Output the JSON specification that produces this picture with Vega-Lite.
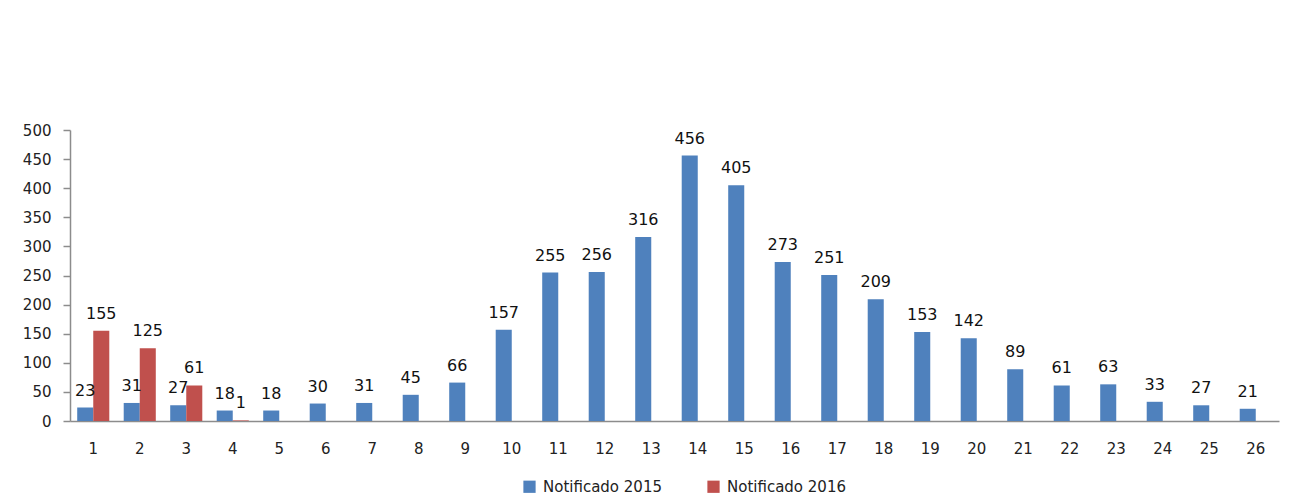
{
  "$schema": "https://vega.github.io/schema/vega-lite/v6.json",
  "autosize": {"type": "none"},
  "width": 1209,
  "height": 291,
  "padding": {"left": 70, "top": 130, "right": 28, "bottom": 82},
  "background": "white",
  "data": {"values": [
    {"semana": 1, "serie": "Notificado 2015", "casos": 23},
    {"semana": 2, "serie": "Notificado 2015", "casos": 31},
    {"semana": 3, "serie": "Notificado 2015", "casos": 27},
    {"semana": 4, "serie": "Notificado 2015", "casos": 18},
    {"semana": 5, "serie": "Notificado 2015", "casos": 18},
    {"semana": 6, "serie": "Notificado 2015", "casos": 30},
    {"semana": 7, "serie": "Notificado 2015", "casos": 31},
    {"semana": 8, "serie": "Notificado 2015", "casos": 45},
    {"semana": 9, "serie": "Notificado 2015", "casos": 66},
    {"semana": 10, "serie": "Notificado 2015", "casos": 157},
    {"semana": 11, "serie": "Notificado 2015", "casos": 255},
    {"semana": 12, "serie": "Notificado 2015", "casos": 256},
    {"semana": 13, "serie": "Notificado 2015", "casos": 316},
    {"semana": 14, "serie": "Notificado 2015", "casos": 456},
    {"semana": 15, "serie": "Notificado 2015", "casos": 405},
    {"semana": 16, "serie": "Notificado 2015", "casos": 273},
    {"semana": 17, "serie": "Notificado 2015", "casos": 251},
    {"semana": 18, "serie": "Notificado 2015", "casos": 209},
    {"semana": 19, "serie": "Notificado 2015", "casos": 153},
    {"semana": 20, "serie": "Notificado 2015", "casos": 142},
    {"semana": 21, "serie": "Notificado 2015", "casos": 89},
    {"semana": 22, "serie": "Notificado 2015", "casos": 61},
    {"semana": 23, "serie": "Notificado 2015", "casos": 63},
    {"semana": 24, "serie": "Notificado 2015", "casos": 33},
    {"semana": 25, "serie": "Notificado 2015", "casos": 27},
    {"semana": 26, "serie": "Notificado 2015", "casos": 21},
    {"semana": 1, "serie": "Notificado 2016", "casos": 155},
    {"semana": 2, "serie": "Notificado 2016", "casos": 125},
    {"semana": 3, "serie": "Notificado 2016", "casos": 61},
    {"semana": 4, "serie": "Notificado 2016", "casos": 1}
  ]},
  "encoding": {
    "x": {"field": "semana", "type": "ordinal",
      "scale": {"paddingInner": 0.31, "paddingOuter": 0.155},
      "axis": {"title": null, "labelAngle": 0, "ticks": false, "labelPadding": 20, "labelFontSize": 15, "labelFont": "DejaVu Sans", "labelColor": "#222", "domainColor": "#8c8c8c", "domainWidth": 1.5}},
    "xOffset": {"field": "serie", "type": "nominal", "scale": {"padding": 0}},
    "y": {"field": "casos", "type": "quantitative",
      "scale": {"domain": [0, 500]},
      "axis": {"title": null, "values": [0,50,100,150,200,250,300,350,400,450,500], "grid": false, "tickSize": 7, "tickColor": "#8c8c8c", "tickWidth": 1.5, "domainColor": "#8c8c8c", "domainWidth": 1.5, "labelFontSize": 15, "labelFont": "DejaVu Sans", "labelColor": "#222", "labelPadding": 12}}
  },
  "layer": [
    {"mark": {"type": "bar"},
     "encoding": {
       "color": {"field": "serie", "type": "nominal",
         "scale": {"domain": ["Notificado 2015", "Notificado 2016"], "range": ["#4F81BD", "#C0504D"]},
         "legend": {"title": null, "orient": "none", "legendX": 452, "legendY": 349, "direction": "horizontal", "symbolType": "square", "symbolSize": 150, "labelFontSize": 15, "labelFont": "DejaVu Sans", "labelColor": "#222", "columnPadding": 44, "labelOffset": 6, "symbolStrokeWidth": 0}
       }
     }},
    {"mark": {"type": "text", "baseline": "alphabetic", "dy": -12, "fontSize": 16, "font": "DejaVu Sans", "color": "#111"},
     "encoding": {"text": {"field": "casos", "type": "quantitative"}}}
  ],
  "config": {"view": {"stroke": null}}
}
